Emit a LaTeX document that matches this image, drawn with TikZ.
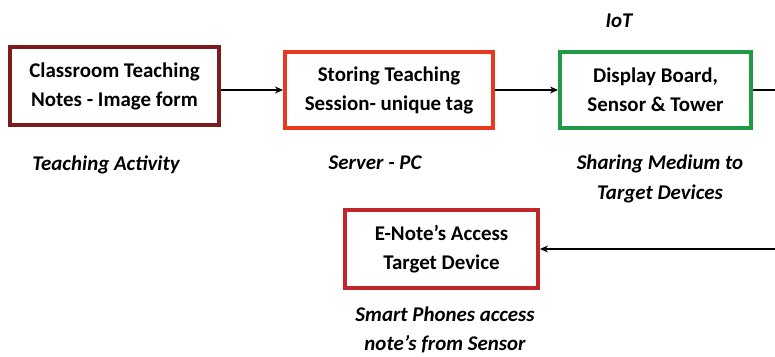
\documentclass[tikz,border=0pt]{standalone}
\usepackage{fontspec}
\setmainfont{Carlito}
\usetikzlibrary{arrows.meta}
\definecolor{maroonbox}{HTML}{7A1C1C}
\definecolor{orangebox}{HTML}{E8391F}
\definecolor{greenbox}{HTML}{1F9A45}
\definecolor{redbox}{HTML}{C0262C}
\tikzset{
  stage/.style={draw, line width=4bp, fill=white, align=center, inner sep=0pt,
    font=\fontsize{21}{29}\selectfont\bfseries},
  caption/.style={align=center, font=\fontsize{21}{29.5}\selectfont\bfseries\itshape},
  flow/.style={line width=1.3bp, -{Stealth[length=8bp,width=7bp]}}
}
\begin{document}
\begin{tikzpicture}[x=1bp,y=-1bp]
\useasboundingbox (0,0) rectangle (775,356);
% process stages
\node[stage, draw=maroonbox, minimum width=209bp, minimum height=78bp] (notes) at (114.5,86)
  {Classroom Teaching\\Notes - Image form};
\node[stage, draw=orangebox, minimum width=208bp, minimum height=76bp] (store) at (389,90)
  {Storing Teaching\\Session- unique tag};
\node[stage, draw=greenbox, minimum width=191bp, minimum height=76bp] (iot) at (655.5,90)
  {Display Board,\\Sensor \& Tower};
\node[stage, draw=redbox, minimum width=193bp, minimum height=78bp] (access) at (441.5,249)
  {E-Note’s Access\\Target Device};
% captions
\node[caption] (cap1) at (106,165) {Teaching Activity};
\node[caption] (cap2) at (375,163) {Server - PC};
\node[caption] (cap3) at (660,179) {Sharing Medium to\\Target Devices};
\node[caption] (cap4) at (445,330) {Smart Phones access\\note’s from Sensor};
\node[caption] (iotlbl) at (619,21) {IoT};
% connectors
\coordinate (outR) at (775,90);
\coordinate (inR) at (775,249);
\draw[flow] (notes.east |- 0,90) -- (store.west);
\draw[flow] (store.east) -- (iot.west);
\draw[line width=1.3bp] (iot.east) -- (outR);
\draw[flow] (inR) -- (access.east);
\end{tikzpicture}
\end{document}
